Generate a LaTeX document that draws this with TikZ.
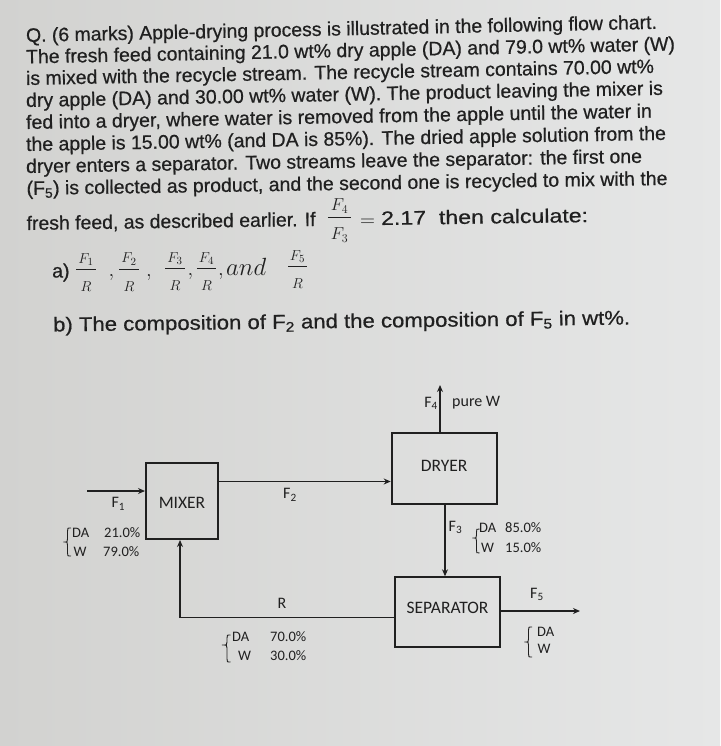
\documentclass[tikz,border=0pt]{standalone}
\usepackage{amsmath}
\usepackage{fontspec}
\usepackage{graphicx}
\usetikzlibrary{arrows.meta,calc}
\setmainfont{Liberation Sans}
\newfontfamily\qf{Liberation Sans}[FakeBold=0.6]
\newfontfamily\dgf{Carlito}
\definecolor{ink}{RGB}{32,32,32}
\definecolor{bgl}{RGB}{210,210,208}
\definecolor{bgr}{RGB}{230,231,231}
% fraction: numerator, denominator, numerator lift, denominator lift, side kern
\newcommand\qfrac[5]{\genfrac{}{}{1pt}{0}{\kern#5\raisebox{#3}[\height][0pt]{$#1$}\kern#5}{\raisebox{#4}[0pt][\depth]{$#2$}}}
\tikzset{
  qtext/.style={anchor=base west, inner sep=0pt, text=ink, font=\qf\fontsize{19.5}{22}\selectfont},
  mtext/.style={inner sep=0pt, text=ink, font=\fontsize{15}{17}\selectfont},
  box/.style={draw=ink, line width=2pt, inner sep=0pt, text=ink, font=\dgf\fontsize{17.5}{20}\selectfont},
  flow/.style={draw=ink, line width=1.5pt},
  arr/.style={flow, -{Stealth[length=7pt,width=6pt]}},
  lbl/.style={inner sep=0pt, text=ink, font=\dgf\fontsize{16}{18}\selectfont},
  comp/.style={anchor=west, inner sep=0pt, text=ink, font=\dgf\fontsize{14.5}{16}\selectfont},
  brc/.style={draw=ink, line width=0.9pt},
}
\begin{document}
\begin{tikzpicture}[x=1pt,y=-1pt]
\useasboundingbox (0,0) rectangle (720,746);
\shade[left color=bgl, right color=bgr] (0,0) rectangle (720,746);

% question text
\node[qtext, rotate=1.2] (l1) at (26,42) {\resizebox{631pt}{\height}{Q. (6 marks) Apple-drying process is illustrated in the following flow chart.}};
\node[qtext, rotate=1.15] (l2) at (26,63.5) {\resizebox{649pt}{\height}{The fresh feed containing 21.0 wt\% dry apple (DA) and 79.0 wt\% water (W)}};
\node[qtext, rotate=1.1] (l3) at (26,85) {\resizebox{628pt}{\height}{is mixed with the recycle stream. The recycle stream contains 70.00 wt\%}};
\node[qtext, rotate=1.1] (l4) at (26,107) {\resizebox{637pt}{\height}{dry apple (DA) and 30.00 wt\% water (W). The product leaving the mixer is}};
\node[qtext, rotate=1.05] (l5) at (26,129) {\resizebox{626pt}{\height}{fed into a dryer, where water is removed from the apple until the water in}};
\node[qtext, rotate=1.0] (l6) at (26,151) {\resizebox{640pt}{\height}{the apple is 15.00 wt\% (and DA is 85\%). The dried apple solution from the}};
\node[qtext, rotate=0.95] (l7) at (26,173) {\resizebox{616pt}{\height}{dryer enters a separator. Two streams leave the separator: the first one}};
\node[qtext, rotate=0.9] (l8) at (26.5,195) {\resizebox{641pt}{\height}{(F\textsubscript{5}) is collected as product, and the second one is recycled to mix with the}};
\node[qtext, rotate=0.8] (l9a) at (26.5,230) {\resizebox{289pt}{\height}{fresh feed, as described earlier. If}};
\node[mtext, anchor=base, font=\fontsize{17}{19}\selectfont] (l9f) at (339.5,222) {$\qfrac{F_4}{F_3}{-0.5pt}{-6pt}{3pt}$};
\node[mtext, anchor=base, font=\fontsize{22}{24}\selectfont] (l9e) at (367.5,226.5) {$=$};
\node[qtext, rotate=0.8] (l9b) at (381,225) {\resizebox{207pt}{\height}{2.17 \ then calculate:}};

% part a
\node[qtext] (aa) at (52,277.5) {a)};
\node[mtext, anchor=base] (fa1) at (86,273) {$\qfrac{F_1}{R}{0pt}{-8.5pt}{2.2pt}$};
\node[mtext, anchor=base, font=\fontsize{20}{22}\selectfont] (ca1) at (111.5,276.5) {$,$};
\node[mtext, anchor=base] (fa2) at (129,272.7) {$\qfrac{F_2}{R}{0pt}{-8.5pt}{2.2pt}$};
\node[mtext, anchor=base, font=\fontsize{20}{22}\selectfont] (ca2) at (149,276) {$,$};
\node[mtext, anchor=base] (fa3) at (175,271.8) {$\qfrac{F_3}{R}{0pt}{-8.5pt}{2.2pt}$};
\node[mtext, anchor=base, font=\fontsize{20}{22}\selectfont] (ca3) at (190.5,275.5) {$,$};
\node[mtext, anchor=base] (fa4) at (206.5,271.8) {$\qfrac{F_4}{R}{0pt}{-8.5pt}{2.2pt}$};
\node[mtext, anchor=base, font=\fontsize{20}{22}\selectfont] (ca4) at (221,275.5) {$,$};
\node[mtext, anchor=base west, font=\fontsize{26}{28}\selectfont] (and) at (226,275) {$and$};
\node[mtext, anchor=base] (fa5) at (297.5,269.8) {$\qfrac{F_5}{R}{0pt}{-8.5pt}{1.8pt}$};

% part b
\node[qtext, rotate=0.7, font=\qf\fontsize{20}{22}\selectfont] (pb) at (53,331.5) {\resizebox{577pt}{\height}{b) The composition of F\textsubscript{2} and the composition of F\textsubscript{5} in wt\%.}};

% units
\node[box, minimum width=72pt, minimum height=76pt] (mixer) at (182,501) {\raisebox{-1.7pt}[\height][\depth]{MIXER}};
\node[box, minimum width=105pt, minimum height=71pt] (dryer) at (444.2,468.8) {\raisebox{2.8pt}[\height][\depth]{DRYER}};
\node[box, minimum width=105pt, minimum height=70pt] (sep) at (447.5,612.3) {\raisebox{4pt}[\height][\depth]{SEPARATOR}};

% stream end points
\coordinate (f1s) at (87,491);
\coordinate (f2y) at (218,481.5);
\coordinate (f4e) at (440,385);
\coordinate (f3x) at (445,504);
\coordinate (f5e) at (580,611);
\coordinate (rc) at (180,617.5);

% streams
\draw[arr] (f1s) -- (f1s -| mixer.west);
\draw[arr] (mixer.east |- f2y) -- (dryer.west |- f2y);
\draw[arr] (f4e |- dryer.north) -- (f4e);
\draw[arr] (f3x |- dryer.south) -- (f3x |- sep.north);
\draw[arr] (sep.east |- f5e) -- (f5e);
\draw[arr] (sep.west |- rc) -- (rc) -- (rc |- mixer.south);

% stream labels
\node[lbl] (lf1) at (118.3,504) {F\textsubscript{1}};
\node[lbl] (lf2) at (290,495) {F\textsubscript{2}};
\node[lbl, anchor=east] (lf4) at (438,403.5) {F\textsubscript{4}};
\node[lbl, anchor=west] (lpw) at (452,403) {pure W};
\node[lbl] (lf3) at (455.5,527.5) {F\textsubscript{3}};
\node[lbl] (lf5) at (537,594.5) {F\textsubscript{5}};
\node[lbl] (lr) at (282,603.5) {R};

% compositions
\node[comp] (c1a) at (72,533) {DA};
\node[comp] (c1b) at (104,533) {21.0\%};
\node[comp] (c1c) at (73.5,552) {W};
\node[comp] (c1d) at (103,552) {79.0\%};
\node[comp] (c3a) at (479,528) {DA};
\node[comp] (c3b) at (505,528) {85.0\%};
\node[comp] (c3c) at (481,548) {W};
\node[comp] (c3d) at (505,548) {15.0\%};
\node[comp] (cra) at (232,637) {DA};
\node[comp] (crb) at (270,637) {70.0\%};
\node[comp] (crc) at (238,656) {W};
\node[comp] (crd) at (270,656) {30.0\%};
\node[comp] (c5a) at (537,632) {DA};
\node[comp] (c5c) at (537.5,648.5) {W};

% braces
\draw[brc] (71,528) .. controls (67.5,528) .. (67.5,531) -- (67.5,539) .. controls (67.5,542) .. (63.5,542) .. controls (67.5,542) .. (67.5,545) -- (67.5,553) .. controls (67.5,556) .. (71,556);
\draw[brc] (479.5,529) .. controls (476.5,529) .. (476.5,532) -- (476.5,535) .. controls (476.5,538) .. (472.5,538) .. controls (476.5,538) .. (476.5,541) -- (476.5,550) .. controls (476.5,553) .. (479.5,553);
\draw[brc] (230.5,635) .. controls (227,635) .. (227,638) -- (227,642) .. controls (227,645) .. (222,645) .. controls (227,645) .. (227,648) -- (227,659) .. controls (227,662) .. (230.5,662);
\draw[brc] (532,627) .. controls (528.5,627) .. (528.5,630) -- (528.5,639) .. controls (528.5,642) .. (524.5,642) .. controls (528.5,642) .. (528.5,645) -- (528.5,654) .. controls (528.5,657) .. (532,657);
\end{tikzpicture}
\end{document}
